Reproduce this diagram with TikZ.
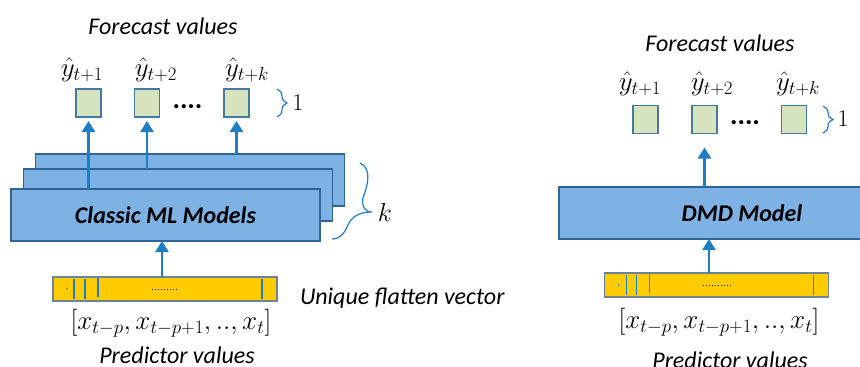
\RequirePackage{fix-cm}
\documentclass[tikz,border=0pt]{standalone}
\usepackage{fontspec}
\setmainfont{Carlito}
\usepackage{tikz}
\usetikzlibrary{arrows.meta,decorations.pathreplacing}
\usepackage{amsmath,amssymb}
\usepackage{xcolor}
\definecolor{modelblue}{RGB}{126,178,228}
\definecolor{modeledge}{RGB}{49,100,150}
\definecolor{outgreen}{RGB}{214,228,189}
\definecolor{outedge}{RGB}{70,120,160}
\definecolor{vecyellow}{RGB}{255,204,0}
\definecolor{vecedge}{RGB}{110,130,150}
\definecolor{flowblue}{RGB}{30,125,195}

\begin{document}
\begin{tikzpicture}[x=1pt,y=-1pt,
  every node/.style={font=\fontsize{24}{28}\selectfont, inner sep=0pt, outer sep=0pt},
  model/.style={draw=modeledge, fill=modelblue, line width=1.2pt, minimum width=309pt, minimum height=52pt, font=\fontsize{24}{28}\selectfont\bfseries\itshape},
  outbox/.style={draw=outedge, fill=outgreen, line width=1.2pt, minimum width=25pt, minimum height=28pt},
  vec/.style={draw=vecedge, fill=vecyellow, line width=1.2pt, minimum width=224pt, minimum height=24pt},
  flow/.style={draw=flowblue, line width=2.5pt, -{Triangle[width=13pt,length=11pt]}},
  vtick/.style={draw=flowblue, line width=1.5pt},
  brc/.style={draw=flowblue, line width=1.2pt, decorate, decoration={brace,amplitude=10pt}},
  captext/.style={font=\fontsize{24}{28}\selectfont\itshape},
  mathtext/.style={font=\fontsize{27}{30}\selectfont}]
\useasboundingbox (0,0) rectangle (860,367);

\node[captext] (lfc) at (163,26) {Forecast values};
\node[mathtext] (ly1) at (82,70) {$\hat{y}_{t+1}$};
\node[mathtext] (ly2) at (156,70) {$\hat{y}_{t+2}$};
\node[mathtext] (lyk) at (247,70) {$\hat{y}_{t+k}$};
\node[outbox] (y1) at (88.5,103) {};
\node[outbox] (y2) at (147,103) {};
\node[outbox] (yk) at (236.5,103) {};
\node[font=\fontsize{28}{30}\selectfont] (ldots) at (187.5,107) {\textbf{....}};
\draw[brc] (277,89) -- (277,117);
\node (lone) at (298,103) {$1$};

\node[model] (mlc) at (190,180) {};
\node[model] (mlb) at (178,195) {};
\node[model] (mla) at (165.5,215) {Classic ML Models};
\draw[flow, shorten >=4pt] (y1 |- mla.north) -- (y1.south);
\draw[flow, shorten >=4pt] (y2 |- mlb.north) -- (y2.south);
\draw[flow, shorten >=4pt] (yk |- mlc.north) -- (yk.south);

\coordinate (kt) at (360,163);
\coordinate (ktip) at (372,212);
\coordinate (kb) at (332,239);
\draw[flowblue, line width=1.2pt] (kt) .. controls (373,169) and (367,187) .. (363,198)
  .. controls (361,206) and (365,212) .. (ktip)
  .. controls (360,212) and (352,216) .. (348,225)
  .. controls (344,234) and (340,239) .. (kb);
\node[font=\fontsize{26}{30}\selectfont] (lk) at (385,212) {$k$};

\node[vec] (lvec) at (165,289) {};
\draw[vtick] ([xshift=21pt,yshift=-2pt]lvec.north west) -- ([xshift=21pt,yshift=2pt]lvec.south west);
\draw[vtick] ([xshift=32pt,yshift=-2pt]lvec.north west) -- ([xshift=32pt,yshift=2pt]lvec.south west);
\draw[vtick] ([xshift=45pt,yshift=-1pt]lvec.north west) -- ([xshift=45pt,yshift=4pt]lvec.south west);
\draw[vtick] ([xshift=209pt,yshift=-2pt]lvec.north west) -- ([xshift=209pt,yshift=2pt]lvec.south west);
\fill[flowblue] ([xshift=14pt]lvec.west) circle (0.8pt);
\draw[black, dotted, line width=1pt] ([xshift=99pt]lvec.west) -- ([xshift=125pt]lvec.west);
\draw[flow] ([xshift=-3pt]lvec.north) -- ([xshift=-3.5pt]mla.south);
\node[mathtext] (lin) at (171,323) {$[x_{t-p}, x_{t-p+1}, .., x_t]$};
\node[captext] (lpv) at (177,355) {Predictor values};
\node[captext, anchor=west] (uf) at (300,298) {Unique flatten vector};

\node[captext] (rfc) at (720,43) {Forecast values};
\node[mathtext] (rz1) at (640,84) {$\hat{y}_{t+1}$};
\node[mathtext] (rz2) at (712,84) {$\hat{y}_{t+2}$};
\node[mathtext] (rzk) at (798,84) {$\hat{y}_{t+k}$};
\node[outbox] (z1) at (645.5,119.5) {};
\node[outbox] (z2) at (704.5,119.5) {};
\node[outbox] (zk) at (794,119.5) {};
\node[font=\fontsize{28}{30}\selectfont] (rdots) at (745,123) {\textbf{....}};
\draw[brc] (823,106) -- (823,133);
\node (rone) at (843,119) {$1$};

\node[model, minimum width=366pt] (dmd) at (742,213) {DMD Model};
\draw[flow, shorten >=14pt] (z2 |- dmd.north) -- (z2.south);

\node[vec] (rvec) at (716.5,285) {};
\draw[vtick] ([xshift=22pt,yshift=-2pt]rvec.north west) -- ([xshift=22pt,yshift=2pt]rvec.south west);
\draw[vtick] ([xshift=32pt,yshift=-2pt]rvec.north west) -- ([xshift=32pt,yshift=2pt]rvec.south west);
\draw[vtick] ([xshift=45pt,yshift=-1pt]rvec.north west) -- ([xshift=45pt,yshift=4pt]rvec.south west);
\draw[vtick] ([xshift=209pt,yshift=-2pt]rvec.north west) -- ([xshift=209pt,yshift=2pt]rvec.south west);
\fill[flowblue] ([xshift=14pt]rvec.west) circle (0.8pt);
\draw[black, dotted, line width=1pt] ([xshift=98pt]rvec.west) -- ([xshift=126pt]rvec.west);
\draw[flow] ([xshift=-7.5pt]rvec.north) -- ([xshift=-33pt]dmd.south);
\node[mathtext] (rin) at (719,322) {$[x_{t-p}, x_{t-p+1}, .., x_t]$};
\node[captext] (rpv) at (730,360) {Predictor values};
\end{tikzpicture}
\end{document}
